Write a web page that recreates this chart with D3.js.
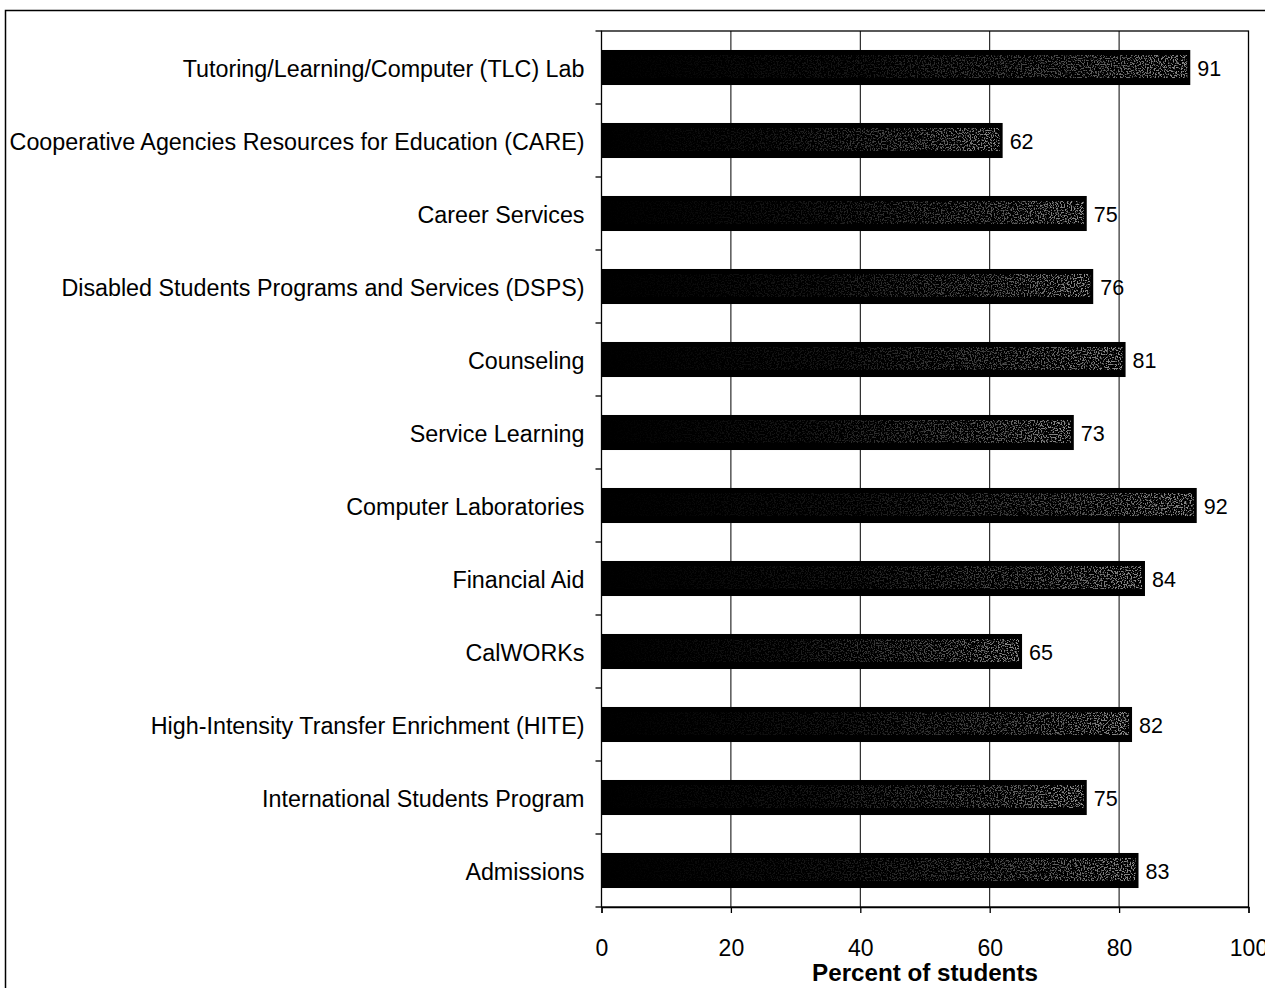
<!DOCTYPE html>
<html>
<head>
<meta charset="utf-8">
<script src="https://cdn.jsdelivr.net/npm/d3@7"></script>
<style>
  html, body { margin: 0; padding: 0; background: #fff; }
  svg { display: block; }
  text { font-family: "Liberation Sans", Arial, sans-serif; fill: #000; }
</style>
</head>
<body>
<svg id="chart" width="1265" height="988"></svg>
<script>
// Share of students using each service
const categories = [
  "Tutoring/Learning/Computer (TLC) Lab",
  "Cooperative Agencies Resources for Education (CARE)",
  "Career Services",
  "Disabled Students Programs and Services (DSPS)",
  "Counseling",
  "Service Learning",
  "Computer Laboratories",
  "Financial Aid",
  "CalWORKs",
  "High-Intensity Transfer Enrichment (HITE)",
  "International Students Program",
  "Admissions"
];
const values = [91, 62, 75, 76, 81, 73, 92, 84, 65, 82, 75, 83];
const xTicks = [0, 20, 40, 60, 80, 100];
const xTitle = "Percent of students";

const svg = d3.select("#chart");
const plot = { left: 601.5, right: 1248.5, top: 31, bottom: 907 };

// Outer frame
svg.append("rect")
  .attr("x", 5.5).attr("y", 10.5)
  .attr("width", 1300).attr("height", 1100)
  .attr("fill", "none").attr("stroke", "#000").attr("stroke-width", 1.5);

const x = d3.scaleLinear().domain([0, 100]).range([plot.left, plot.right]);
const y = d3.scaleBand().domain(categories).range([plot.top, plot.bottom]).paddingInner(0.52).paddingOuter(0.26);
const yb = d3.scaleBand().domain(categories).range([plot.top, plot.bottom]);

// Speckled fill overlay for bars
const defs = svg.append("defs");
const grad = defs.append("linearGradient").attr("id", "fade")
  .attr("x1", "0").attr("x2", "1").attr("y1", "0").attr("y2", "0");
grad.append("stop").attr("offset", "0%").attr("stop-color", "#ccc").attr("stop-opacity", 0);
grad.append("stop").attr("offset", "45%").attr("stop-color", "#ccc").attr("stop-opacity", 0.12);
grad.append("stop").attr("offset", "80%").attr("stop-color", "#ccc").attr("stop-opacity", 0.4);
grad.append("stop").attr("offset", "100%").attr("stop-color", "#ddd").attr("stop-opacity", 0.65);

const filt = defs.append("filter").attr("id", "speckle")
  .attr("x", 0).attr("y", 0).attr("width", 1).attr("height", 1);
filt.append("feTurbulence").attr("type", "fractalNoise")
  .attr("baseFrequency", 0.7).attr("numOctaves", 2).attr("seed", 7).attr("result", "noise");
filt.append("feColorMatrix").attr("in", "noise").attr("type", "matrix")
  .attr("values", "0 0 0 0 0  0 0 0 0 0  0 0 0 0 0  0 0 0 9 -4.6").attr("result", "dots");
filt.append("feComposite").attr("in", "SourceGraphic").attr("in2", "dots").attr("operator", "in");

// Plot box and gridlines
svg.append("rect")
  .attr("x", plot.left).attr("y", plot.top)
  .attr("width", plot.right - plot.left).attr("height", plot.bottom - plot.top)
  .attr("fill", "none").attr("stroke", "#000").attr("stroke-width", 1.3);

svg.append("g").selectAll("line")
  .data(xTicks.slice(1, -1))
  .join("line")
  .attr("x1", d => x(d)).attr("x2", d => x(d))
  .attr("y1", plot.top).attr("y2", plot.bottom)
  .attr("stroke", "#000").attr("stroke-width", 1);

// Bars
const bars = svg.append("g");
bars.selectAll("rect.bar")
  .data(values)
  .join("rect").attr("class", "bar")
  .attr("x", x(0))
  .attr("y", (d, i) => y(categories[i]))
  .attr("width", d => x(d) - x(0))
  .attr("height", y.bandwidth())
  .attr("fill", "#000");
bars.selectAll("rect.tex")
  .data(values)
  .join("rect").attr("class", "tex")
  .attr("x", x(0))
  .attr("y", (d, i) => y(categories[i]) + 5)
  .attr("width", d => x(d) - x(0) - 3)
  .attr("height", y.bandwidth() - 12)
  .attr("fill", "url(#fade)")
  .attr("filter", "url(#speckle)");

// Value labels
svg.append("g").selectAll("text")
  .data(values)
  .join("text")
  .attr("x", d => x(d) + 7)
  .attr("y", (d, i) => y(categories[i]) + y.bandwidth() / 2)
  .attr("dy", "0.38em")
  .attr("font-size", 21.5)
  .text(d => d);

// Y axis: ticks at category boundaries
const bounds = categories.map(c => yb(c)).concat([plot.bottom]);
svg.append("g").selectAll("line")
  .data(bounds)
  .join("line")
  .attr("x1", plot.left - 6).attr("x2", plot.left)
  .attr("y1", d => d).attr("y2", d => d)
  .attr("stroke", "#000").attr("stroke-width", 1.3);

svg.append("g").selectAll("text")
  .data(categories)
  .join("text")
  .attr("x", plot.left - 17)
  .attr("y", d => yb(d) + yb.bandwidth() / 2)
  .attr("dy", "0.42em")
  .attr("text-anchor", "end")
  .attr("font-size", 23.3)
  .text(d => d);

// X axis
const xAxis = d3.axisBottom(x).tickValues(xTicks).tickSize(6).tickPadding(27).tickFormat(d3.format("d"));
const gx = svg.append("g").attr("transform", `translate(0,${plot.bottom})`).call(xAxis);
gx.select(".domain").attr("stroke-width", 1.3);
gx.selectAll(".tick line").attr("stroke-width", 1.3);
gx.selectAll(".tick text").attr("font-size", 23).attr("font-family", "Liberation Sans, Arial, sans-serif");

svg.append("text")
  .attr("x", (plot.left + plot.right) / 2)
  .attr("y", 981)
  .attr("text-anchor", "middle")
  .attr("font-size", 24.2)
  .attr("font-weight", "bold")
  .text(xTitle);
</script>
</body>
</html>
